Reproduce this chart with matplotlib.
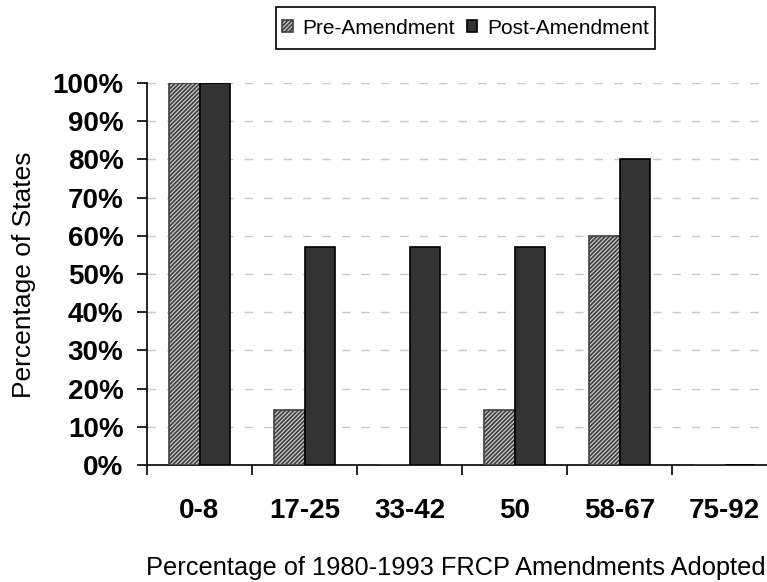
import matplotlib
matplotlib.use("Agg")
import matplotlib.pyplot as plt
from matplotlib.patches import Rectangle
import numpy as np
from matplotlib.ticker import FixedLocator, FuncFormatter

plt.rcParams['font.family'] = ['Liberation Sans', 'DejaVu Sans']
plt.rcParams['hatch.linewidth'] = 1.2
plt.rcParams['hatch.color'] = '#808080'

categories = ["0-8", "17-25", "33-42", "50", "58-67", "75-92"]
pre_amendment = [100, 14.3, 0, 14.3, 60, 0]
post_amendment = [100, 57.1, 57.1, 57.1, 80, 0]
y_ticks = [0, 10, 20, 30, 40, 50, 60, 70, 80, 90, 100]

W, H = 767, 582
fig = plt.figure(figsize=(W / 100, H / 100), dpi=100)
ax = fig.add_axes([147 / W, 1 - 465 / H, 630 / W, (465 - 83) / H])

x = np.arange(len(categories))
bw = 0.295

pre = ax.bar(x - bw / 2, pre_amendment, bw, facecolor='#c8c8c8', edgecolor='#404040',
             linewidth=1.2, hatch='////////', label='Pre-Amendment', zorder=3)
post = ax.bar(x + bw / 2, post_amendment, bw, facecolor='#333333', edgecolor='#000000',
              linewidth=1.2, label='Post-Amendment', zorder=3)

ax.set_xlim(-0.5, len(categories) - 0.5)
ax.set_ylim(0, 100)

ax.yaxis.set_major_locator(FixedLocator(y_ticks))
ax.yaxis.set_major_formatter(FuncFormatter(lambda v, p: f"{int(v)}%"))
ax.tick_params(axis='y', direction='out', length=7, width=1.2, pad=10,
               labelsize=20)
for lbl in ax.get_yticklabels():
    lbl.set_fontweight('bold')

ax.set_xticks(np.arange(len(categories) + 1) - 0.5)
ax.set_xticklabels([])
ax.set_xticks(x, minor=True)
ax.set_xticklabels(categories, minor=True, fontsize=20, fontweight='bold')
ax.tick_params(axis='x', which='major', direction='out', length=7, width=1.2)
ax.tick_params(axis='x', which='minor', length=0, pad=24)

ax.grid(axis='y', color='#c8c8c8', linestyle=(0, (6, 8)), linewidth=1.0, zorder=0)
ax.set_axisbelow(True)

for side in ['top', 'right']:
    ax.spines[side].set_visible(False)
for side in ['left', 'bottom']:
    ax.spines[side].set_linewidth(1.2)

fig.text(24 / W, 1 - 275 / H, 'Percentage of States', rotation=90,
         ha='center', va='center', fontsize=19)
fig.text(146 / W, 1 - 575 / H, 'Percentage of 1980-1993 FRCP Amendments Adopted',
         ha='left', va='baseline', fontsize=18.3)

# legend entries, with a fixed box drawn around them
box_l, box_r, box_t, box_b = 276, 655, 7, 49
leg = fig.legend(handles=[pre, post], loc='center',
                 bbox_to_anchor=((box_l + box_r) / 2 / W, 1 - (box_t + box_b) / 2 / H),
                 ncol=2, fontsize=15, frameon=False,
                 handlelength=0.5, handleheight=0.5, handletextpad=0.45,
                 columnspacing=0.6, borderpad=0, borderaxespad=0)
fig.patches.append(Rectangle((box_l / W, 1 - box_b / H), (box_r - box_l) / W,
                             (box_b - box_t) / H, transform=fig.transFigure,
                             fill=False, edgecolor='#000000', linewidth=1.2))

fig.savefig('out.png', dpi=100)
